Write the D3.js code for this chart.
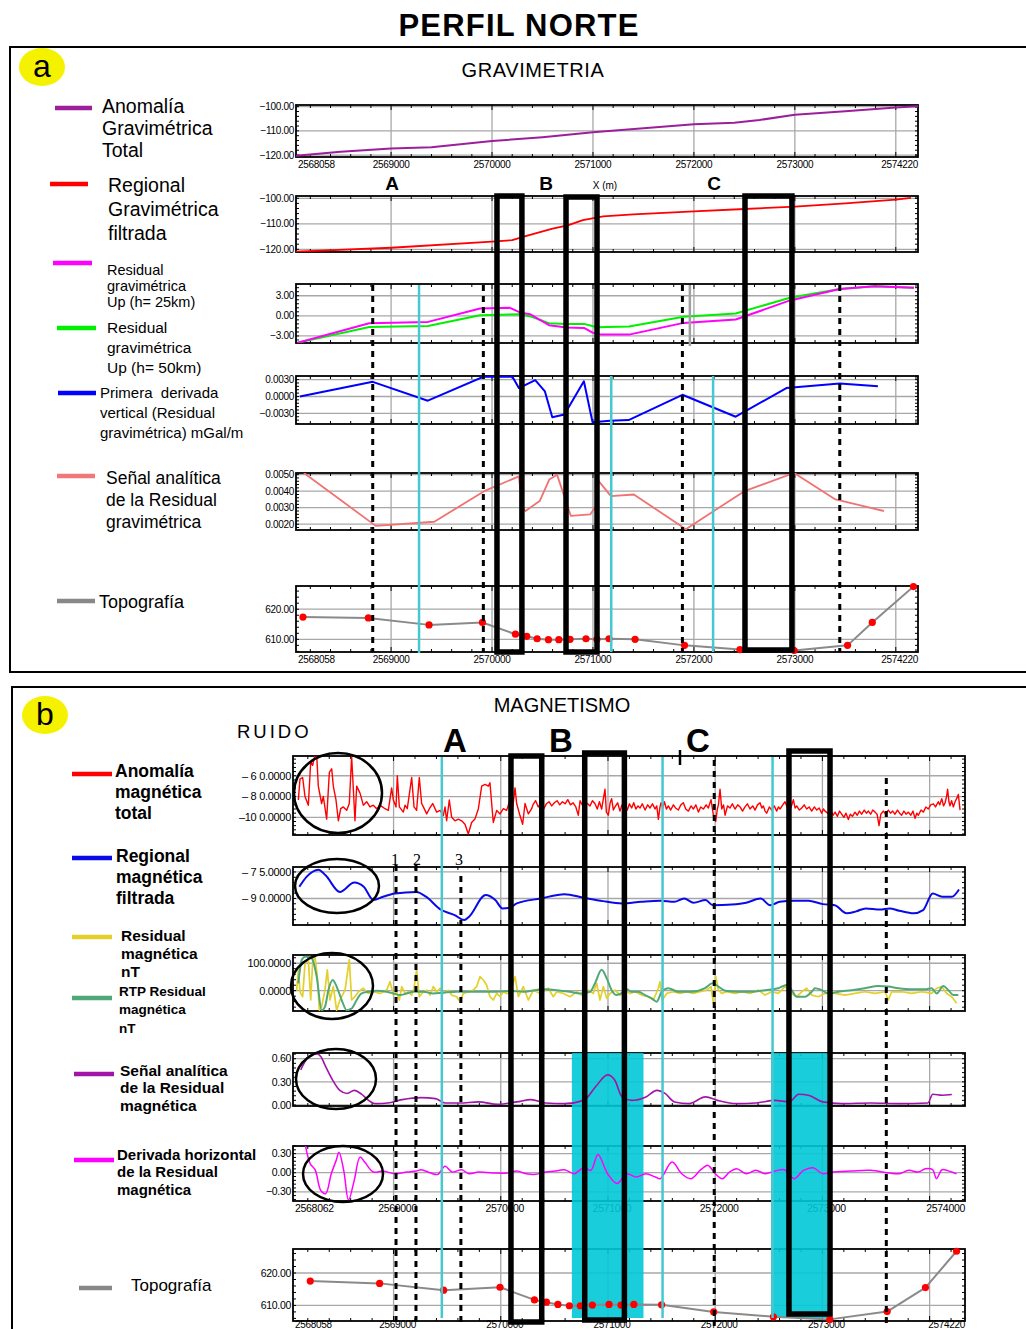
<!DOCTYPE html>
<html><head><meta charset="utf-8">
<script src="https://cdn.jsdelivr.net/npm/d3@7"></script>
<style>
body{margin:0;background:#fff}
svg{display:block}
text{font-family:"Liberation Sans",Arial,Helvetica,sans-serif;fill:#000}
</style>
</head><body>
<svg id="c" width="1026" height="1329"></svg>
<script>
// ================= DATA : GRAVIMETRIA (x = distance m) =================
const gravTickLabels = [2568058, 2569000, 2570000, 2571000, 2572000, 2573000, 2574220];
const gravGrid = [2569000, 2570000, 2571000, 2572000, 2573000, 2574000];
const anomaliaGravTotal = [[2568058,-120.3],[2568500,-118.6],[2569000,-117.3],[2569400,-116.8],[2570000,-114.2],[2570500,-112.6],[2571000,-110.6],[2571500,-108.9],[2572000,-107.3],[2572400,-106.6],[2572650,-105.5],[2573000,-103.3],[2573500,-101.9],[2574000,-100.3],[2574220,-99.8]];
const regionalGrav = [[2568058,-120.9],[2569000,-119.4],[2570000,-117.0],[2570200,-116.4],[2570350,-114.6],[2570600,-111.9],[2570750,-110.6],[2570900,-108.6],[2571100,-107.1],[2571400,-106.3],[2572000,-105.1],[2572500,-104.2],[2573000,-103.3],[2573500,-102.0],[2574000,-100.5],[2574150,-99.8]];
const residualUp25 = [[2568075,-4.0],[2568784,-1.1],[2569366,-0.9],[2569881,1.1],[2570178,1.2],[2570287,0.45],[2570376,0.25],[2570564,-1.4],[2570739,-1.75],[2570911,-1.8],[2570996,-2.5],[2571080,-2.8],[2571357,-2.8],[2571898,-1.05],[2572414,-0.55],[2572952,2.3],[2573445,4.0],[2573789,4.4],[2574180,4.2]];
const residualUp50 = [[2568075,-4.0],[2568784,-1.65],[2569366,-1.5],[2569881,0.1],[2570268,0.25],[2570395,-0.15],[2570564,-1.1],[2570739,-1.2],[2570911,-1.2],[2571040,-1.7],[2571357,-1.6],[2571898,-0.15],[2572414,0.35],[2572952,2.7],[2573445,4.0],[2573789,4.4],[2574180,4.2]];
const derivadaVertical = [[2568097,0],[2568818,0.0026],[2569364,-0.00075],[2569913,0.0035],[2570202,0.0035],[2570266,0.0015],[2570428,0.0029],[2570524,0.0009],[2570597,-0.0037],[2570717,-0.0032],[2570910,0.0027],[2570996,-0.0046],[2571168,-0.0043],[2571353,-0.0042],[2571886,0.0003],[2572414,-0.0036],[2572916,0.0015],[2573445,0.0023],[2573823,0.0018]];
const senalAnaliticaGrav = [[2568137,0.0051],[2568848,0.0019],[2569428,0.00215],[2569922,0.0040],[2570266,0.0049],[2570300,0.0030],[2570331,0.0028],[2570472,0.0034],[2570567,0.0047],[2570644,0.0050],[2570781,0.0025],[2570974,0.0026],[2571030,0.0031],[2571045,0.0047],[2571178,0.0037],[2571405,0.0038],[2571920,0.0017],[2572500,0.0040],[2572993,0.0051],[2573402,0.0035],[2573882,0.0028]];
const topoGrav = [[2568127,617.4],[2568775,617.1],[2569376,614.8],[2569905,615.6],[2570232,611.7],[2570344,611.0],[2570447,610.2],[2570559,609.9],[2570662,609.9],[2570773,610.0],[2570931,610.2],[2571039,610.0],[2571159,610.2],[2571417,610.0],[2571907,608.0],[2572456,606.6],[2572993,606.3],[2573522,608.0],[2573767,615.6],[2574175,627.5]];
const gravDashedX = [2568818, 2569914, 2571886, 2573445];
const gravCyanX = [2569277, 2571181, 2572190];
const gravGrayX = [2571960];
const gravBoxes = [[2570049,2570296],[2570733,2571040],[2572506,2572971]];

// ================= DATA : MAGNETISMO =================
const magTickLabels = [2568062, 2569000, 2570000, 2571000, 2572000, 2573000, 2574000];
const magTopoTickLabels = [2568058, 2569000, 2570000, 2571000, 2572000, 2573000, 2574220];
const magGrid = [2569000, 2570000, 2571000, 2572000, 2573000, 2574000];
const magTotal = [[2568112,-83.3],[2568127,-63.3],[2568152,-61.7],[2568174,-80],[2568205,-88.3],[2568227,-46.7],[2568245,-50],[2568267,-40],[2568283,-40],[2568298,-70],[2568329,-86.7],[2568345,-80],[2568376,-101.7],[2568401,-56.7],[2568423,-53.3],[2568438,-70],[2568463,-83.3],[2568485,-103.3],[2568507,-91.7],[2568531,-90],[2568563,-93.3],[2568587,-86.7],[2568609,-41.7],[2568625,-73.3],[2568640,-103.3],[2568656,-70],[2568687,-76.7],[2568718,-88.3],[2568749,-85],[2568780,-90],[2568811,-88.3],[2568842,-91.7],[2568873,-88.3],[2568920,-91.7],[2568951,-93.3],[2568982,-71.7],[2568998,-83.3],[2569023,-90],[2569035,-60],[2569054,-90],[2569091,-95],[2569107,-88.3],[2569128,-91.7],[2569169,-61.7],[2569191,-90],[2569215,-93.3],[2569240,-61.7],[2569262,-86.7],[2569278,-90],[2569309,-96.7],[2569334,-91.7],[2569365,-86.7],[2569402,-95],[2569434,-93.3],[2569464,-98.3],[2569480,-90],[2569495,-103.3],[2569520,-83.3],[2569542,-100],[2569573,-103.3],[2569604,-101.7],[2569635,-103.3],[2569666,-106.7],[2569697,-116],[2569728,-105],[2569759,-101.7],[2569791,-91.7],[2569822,-70],[2569853,-68.3],[2569884,-70],[2569899,-66.7],[2569930,-105],[2569962,-93.3],[2569993,-96.7],[2570024,-91.7],[2570055,-93.3],[2570086,-83.3],[2570101,-100],[2570133,-71.7],[2570148,-86.7],[2570179,-98.3],[2570204,-106.7],[2570226,-86.7],[2570257,-96.7],[2570288,-91.7],
[2570300,-88],[2570325,-84],[2570350,-90],[2570375,-86],[2570400,-92],[2570425,-87],[2570450,-85],[2570475,-89],[2570500,-86],[2570525,-84],[2570550,-88],[2570575,-85],[2570600,-87],[2570625,-83],[2570650,-88],[2570675,-86],[2570700,-90],[2570723,-98],[2570740,-84],[2570754,-87],[2570780,-91],[2570800,-86],[2570832,-89],[2570855,-84],[2570879,-87],[2570900,-92],[2570920,-85],[2570941,-92],[2570960,-80],[2570972,-73],[2570985,-95],[2571003,-98],[2571020,-86],[2571034,-82],[2571050,-93],[2571065,-90],[2571090,-86],[2571112,-94],[2571130,-88],[2571143,-92],
[2571159,-88],[2571180,-93],[2571200,-87],[2571221,-91],[2571240,-86],[2571260,-92],[2571280,-89],[2571299,-91],[2571320,-87],[2571346,-93],[2571370,-88],[2571392,-91],[2571415,-87],[2571439,-92],[2571455,-89],[2571470,-102],[2571485,-90],[2571495,-86],[2571510,-91],[2571526,-85],[2571545,-92],[2571563,-89],[2571585,-93],[2571610,-88],[2571630,-91],[2571656,-93],[2571680,-88],[2571703,-86],[2571725,-92],[2571750,-94],[2571775,-89],[2571796,-92],[2571820,-88],[2571843,-95],[2571865,-90],[2571890,-92],[2571915,-88],[2571936,-91],[2571961,-83],[2571983,-98],[2572005,-104],[2572020,-92],[2572030,-88],[2572045,-73],[2572061,-92],[2572078,-88],[2572092,-98],[2572115,-89],[2572138,-91],[2572160,-87],[2572185,-92],[2572210,-88],[2572232,-90],[2572255,-94],[2572278,-90],[2572300,-87],[2572325,-92],[2572350,-89],[2572372,-93],[2572395,-88],[2572418,-86],[2572435,-91],[2572449,-89],[2572465,-94],[2572480,-96],[2572505,-90],[2572527,-93],[2572550,-89],[2572574,-94],[2572590,-90],[2572605,-92],[2572630,-88],[2572651,-85],[2572675,-91],[2572698,-93],[2572715,-88],[2572729,-83],[2572745,-91],[2572760,-89],[2572785,-93],[2572807,-91],[2572830,-88],[2572853,-92],[2572876,-90],[2572900,-94],[2572925,-90],[2572947,-93],[2572970,-91],[2572993,-96],[2573010,-92],[2573024,-94],
[2573050,-96],[2573075,-93],[2573100,-98],[2573118,-95],[2573140,-99],[2573160,-94],[2573180,-97],[2573200,-100],[2573220,-96],[2573242,-102],[2573260,-97],[2573280,-99],[2573304,-95],[2573325,-98],[2573345,-94],[2573366,-97],[2573390,-93],[2573410,-96],[2573429,-94],[2573450,-97],[2573470,-93],[2573491,-95],[2573510,-97],[2573528,-108],[2573545,-97],[2573568,-94],[2573590,-97],[2573615,-93],[2573635,-96],[2573655,-94],[2573677,-97],[2573700,-93],[2573720,-96],[2573739,-98],[2573760,-94],[2573780,-97],[2573802,-95],[2573825,-98],[2573845,-94],[2573864,-101],[2573880,-96],[2573895,-98],[2573920,-93],[2573942,-95],[2573965,-90],[2573988,-92],[2574010,-88],[2574035,-87],[2574055,-90],[2574081,-85],[2574095,-88],[2574113,-82],[2574130,-89],[2574144,-86],[2574158,-80],[2574168,-73],[2574180,-85],[2574190,-89],[2574205,-84],[2574221,-90],[2574237,-85],[2574252,-82],[2574268,-78],[2574284,-93]];
const magRegional = [[2568121,-83.4],[2568188,-77.8],[2568299,-73.7],[2568366,-76.9],[2568499,-86.3],[2568634,-81],[2568722,-83.4],[2568812,-90.9],[2568902,-89],[2569013,-87.2],[2569213,-86.3],[2569303,-89],[2569436,-96.2],[2569570,-99.4],[2569659,-102.2],[2569704,-100.3],[2569859,-88.1],[2569949,-90.9],[2570016,-95.6],[2570082,-95.3],[2570149,-92.8],[2570372,-90],[2570595,-87.6],[2570774,-89.6],[2570952,-91.5],[2571131,-92.8],[2571309,-91.9],[2571487,-91.3],[2571620,-91.9],[2571710,-90],[2571799,-92.4],[2571910,-90.9],[2571978,-93.8],[2572156,-93.4],[2572289,-92.4],[2572424,-90],[2572512,-93.8],[2572602,-91.9],[2572735,-91.3],[2572869,-91.3],[2573003,-93.2],[2573115,-93.8],[2573226,-98.4],[2573315,-97.3],[2573404,-95.6],[2573538,-96.2],[2573627,-95.6],[2573716,-96.9],[2573850,-98.4],[2573939,-96.6],[2574029,-87.2],[2574117,-89],[2574207,-89],[2574274,-84.9]];
const magResidual = [[2568096,2],[2568112,76],[2568127,-4],[2568152,-22],[2568174,100],[2568205,112],[2568227,-34],[2568245,100],[2568267,124],[2568289,51],[2568308,-71],[2568329,-59],[2568360,2],[2568382,76],[2568407,-34],[2568438,15],[2568469,-71],[2568500,-34],[2568547,2],[2568587,112],[2568609,-34],[2568640,-22],[2568671,-4],[2568718,9],[2568765,-10],[2568811,-4],[2568873,-10],[2568936,2],[2568967,33],[2568998,-16],[2569029,-4],[2569054,-34],[2569076,15],[2569107,-10],[2569138,-4],[2569169,-16],[2569191,9],[2569215,76],[2569240,-22],[2569278,-4],[2569309,2],[2569340,-16],[2569371,15],[2569402,-4],[2569434,9],[2569464,-10],[2569511,2],[2569542,-16],[2569589,-22],[2569620,-40],[2569651,-10],[2569697,-4],[2569744,2],[2569775,15],[2569806,51],[2569837,39],[2569868,21],[2569899,-22],[2569930,-34],[2569962,-10],[2569993,-22],[2570024,-4],[2570055,-10],[2570086,-10],[2570133,51],[2570164,-22],[2570210,15],[2570257,-34],[2570304,2],[2570366,-10],[2570443,9],[2570490,-22],[2570521,-4],[2570583,-10],[2570646,-22],[2570708,-4],[2570754,-16],[2570816,2],[2570863,-10],[2570894,27],[2570925,-34],[2570957,15],[2570988,-28],[2571019,-10],[2571065,2],[2571112,-16],[2571143,-4],[2571159,2],[2571206,-10],[2571252,-4],[2571314,-16],[2571377,-22],[2571423,-34],[2571470,9],[2571485,33],[2571507,-34],[2571548,-10],[2571610,-4],[2571672,-10],[2571734,-4],[2571796,-10],[2571859,-4],[2571921,2],[2571961,15],[2571983,-46],[2572005,51],[2572030,2],[2572061,-10],[2572107,-4],[2572185,-10],[2572247,-4],[2572325,-10],[2572403,2],[2572465,-16],[2572527,-4],[2572589,-10],[2572651,15],[2572714,-10],[2572760,-22],[2572807,-4],[2572853,9],[2572900,-16],[2572962,-22],[2573024,-10],[2573118,-10],[2573211,-16],[2573304,-10],[2573397,-4],[2573491,-10],[2573584,-4],[2573615,-34],[2573646,-4],[2573739,-4],[2573833,-10],[2573926,-4],[2574019,-10],[2574066,9],[2574113,15],[2574159,-10],[2574206,-22],[2574252,-46]];
const magRTP = [[2568112,27],[2568143,112],[2568174,124],[2568227,124],[2568245,112],[2568283,51],[2568329,-71],[2568360,-59],[2568392,2],[2568432,39],[2568469,15],[2568516,-34],[2568563,-71],[2568609,-65],[2568656,-34],[2568702,-10],[2568765,-4],[2568842,0],[2568936,-4],[2568998,-10],[2569060,-16],[2569122,-10],[2569184,-4],[2569278,-4],[2569371,-10],[2569464,-7],[2569589,-4],[2569775,-4],[2569962,-4],[2570086,-1],[2570210,-4],[2570397,5],[2570521,2],[2570646,-4],[2570739,-10],[2570832,-4],[2570879,27],[2570941,76],[2570988,45],[2571034,2],[2571081,-16],[2571143,-4],[2571159,9],[2571221,-4],[2571283,-4],[2571346,-16],[2571408,-28],[2571454,-40],[2571501,-4],[2571563,9],[2571656,-4],[2571781,-4],[2571905,9],[2571974,27],[2572030,15],[2572092,0],[2572216,-4],[2572340,-4],[2572465,2],[2572589,9],[2572667,21],[2572714,2],[2572760,-22],[2572838,-22],[2572900,-4],[2572931,9],[2572993,2],[2573055,-10],[2573149,-4],[2573273,2],[2573397,9],[2573522,17],[2573615,15],[2573708,9],[2573833,5],[2573957,5],[2574019,9],[2574066,-10],[2574128,17],[2574175,2],[2574221,-16],[2574268,-16]];
const magSenalAnalitica = [[2568134,0.456],[2568166,0.543],[2568210,0.63],[2568277,0.666],[2568321,0.63],[2568366,0.50],[2568433,0.32],[2568499,0.19],[2568567,0.15],[2568634,0.19],[2568701,0.14],[2568767,0.06],[2568834,0.018],[2568945,0.026],[2569080,0.07],[2569258,0.096],[2569391,0.083],[2569481,0.026],[2569614,0.026],[2569793,0.04],[2569971,0.009],[2570149,0.04],[2570283,0.07],[2570417,0.026],[2570595,0.018],[2570774,0.06],[2570886,0.24],[2570996,0.39],[2571064,0.32],[2571131,0.105],[2571219,0.06],[2571354,0.105],[2571456,0.19],[2571532,0.15],[2571620,0.04],[2571755,0.018],[2571910,0.105],[2572022,0.06],[2572201,0.018],[2572379,0.026],[2572557,0.06],[2572691,0.04],[2572780,0.14],[2572869,0.127],[2573003,0.04],[2573181,0.018],[2573449,0.026],[2573716,0.018],[2573984,0.026],[2574029,0.14],[2574117,0.127],[2574207,0.136]];
const magDerivadaH = [[2568178,0.43],[2568223,0.14],[2568268,0.047],[2568321,-0.277],[2568366,-0.33],[2568419,-0.016],[2568464,0.19],[2568491,0.32],[2568535,0.037],[2568580,-0.43],[2568633,-0.12],[2568687,0.245],[2568731,0.167],[2568812,0.01],[2568901,0.026],[2569012,-0.016],[2569124,0.01],[2569212,0.026],[2569257,0.047],[2569346,-0.005],[2569413,-0.026],[2569480,0.1],[2569547,0.01],[2569636,0.047],[2569703,-0.016],[2569792,0.01],[2569926,-0.005],[2570060,-0.005],[2570149,0.026],[2570237,-0.016],[2570326,-0.026],[2570417,0.01],[2570506,0.026],[2570595,0.047],[2570684,-0.016],[2570773,0.078],[2570840,0.037],[2570907,0.287],[2570996,-0.016],[2571085,-0.17],[2571174,-0.016],[2571264,-0.068],[2571353,-0.016],[2571442,-0.068],[2571487,-0.094],[2571598,0.167],[2571687,-0.016],[2571776,-0.094],[2571866,0.047],[2571933,0.115],[2572000,-0.016],[2572067,-0.094],[2572133,0.01],[2572200,0.063],[2572289,-0.016],[2572378,0.037],[2572467,-0.016],[2572557,0.026],[2572646,0.047],[2572735,-0.094],[2572824,0.037],[2572913,0.078],[2573003,-0.016],[2573092,0.01],[2573270,0.026],[2573448,0.037],[2573626,-0.005],[2573715,-0.016],[2573805,0.037],[2573894,0.01],[2573961,0.063],[2574028,0.047],[2574064,-0.094],[2574117,0.047],[2574206,0.01],[2574251,-0.016]];
const topoMag = [[2568223,617.5],[2568870,616.8],[2569467,614.7],[2569993,615.6],[2570314,611.7],[2570426,611.0],[2570533,610.3],[2570640,609.9],[2570742,609.9],[2570854,610.1],[2571010,610.3],[2571121,610.1],[2571241,610.3],[2571500,610.2],[2571986,608.0],[2572543,606.5],[2573069,605.7],[2573604,608.1],[2573961,615.5],[2574251,626.7]];
const magDashedX = [2569023, 2569209, 2569628, 2571991, 2573596];
const magCyanX = [2569450, 2571509, 2572535];
const magCyanRects = [[2570663,2571331],[2572521,2573048]];
const magBoxes = [[2570095,2570382],[2570783,2571153],[2572688,2573071]];

// ================= LAYOUT =================
const svg = d3.select('#c');
const xA = d3.scaleLinear().domain([2568058, 2574220]).range([296, 918]);
const xB = d3.scaleLinear().domain([2568062, 2574330]).range([293, 965]);

function panel(id, x, top, bottom, domain, ticks, labels, minor, grid, fs) {
  const y = d3.scaleLinear().domain(domain).range([bottom, top]);
  const [x0, x1] = x.range();
  const g = svg.append('g');
  ticks.forEach(t => g.append('line').attr('x1', x0).attr('x2', x1).attr('y1', y(t)).attr('y2', y(t))
    .attr('stroke', '#a8a8a8').attr('stroke-width', 1.3));
  grid.forEach(v => g.append('line').attr('x1', x(v)).attr('x2', x(v)).attr('y1', top).attr('y2', bottom)
    .attr('stroke', '#a8a8a8').attr('stroke-width', 1.3));
  const d0 = x.domain()[0], d1 = x.domain()[1];
  for (let v = Math.ceil(d0 / 200) * 200; v < d1; v += 200) {
    const L = (v % 1000 === 0) ? 5 : 3;
    g.append('line').attr('x1', x(v)).attr('x2', x(v)).attr('y1', top).attr('y2', top + L).attr('stroke', '#000').attr('stroke-width', 1);
    g.append('line').attr('x1', x(v)).attr('x2', x(v)).attr('y1', bottom).attr('y2', bottom - L).attr('stroke', '#000').attr('stroke-width', 1);
  }
  const [lo, hi] = domain;
  for (let v = Math.ceil(lo / minor) * minor; v <= hi; v += minor) {
    g.append('line').attr('x1', x0).attr('x2', x0 + 3).attr('y1', y(v)).attr('y2', y(v)).attr('stroke', '#000').attr('stroke-width', 1);
    g.append('line').attr('x1', x1).attr('x2', x1 - 3).attr('y1', y(v)).attr('y2', y(v)).attr('stroke', '#000').attr('stroke-width', 1);
  }
  g.append('rect').attr('x', x0).attr('y', top).attr('width', x1 - x0).attr('height', bottom - top)
    .attr('fill', 'none').attr('stroke', '#000').attr('stroke-width', 1.8);
  ticks.forEach((t, i) => g.append('text').attr('x', x0 - 2).attr('y', y(t)).attr('dy', '0.35em')
    .attr('text-anchor', 'end').attr('font-size', fs).attr('letter-spacing', -0.3).text(labels[i]));
  svg.append('clipPath').attr('id', id).append('rect').attr('x', x0).attr('y', top).attr('width', x1 - x0).attr('height', bottom - top);
  return y;
}
function xLabels(x, vals, yPos, fs, dx, color) {
  const [x0, x1] = x.range();
  vals.forEach((v, i) => {
    const last = i === vals.length - 1, first = i === 0;
    svg.append('text').attr('x', first ? x0 + 2 : last ? x1 : x(v) + dx).attr('y', yPos)
      .attr('text-anchor', first ? 'start' : last ? 'end' : 'middle').attr('font-size', fs)
      .attr('letter-spacing', -0.3).attr('fill', color || '#000').text(String(v));
  });
}
function line(clip, x, y, data, color, w, curve) {
  svg.append('path').datum(data).attr('clip-path', `url(#${clip})`)
    .attr('d', d3.line().x(d => x(d[0])).y(d => y(d[1])).curve(curve || d3.curveLinear))
    .attr('fill', 'none').attr('stroke', color).attr('stroke-width', w).attr('stroke-linejoin', 'round');
}
function dots(x, y, data, r) {
  svg.append('g').selectAll('circle').data(data).join('circle')
    .attr('cx', d => x(d[0])).attr('cy', d => y(d[1])).attr('r', r).attr('fill', '#ff0000');
}
function vline(xp, y1, y2, color, w, dash) {
  const l = svg.append('line').attr('x1', xp).attr('x2', xp).attr('y1', y1).attr('y2', y2)
    .attr('stroke', color).attr('stroke-width', w);
  if (dash) l.attr('stroke-dasharray', dash);
}
function legend(items) {
  items.forEach(it => {
    svg.append('line').attr('x1', it.x1).attr('x2', it.x2).attr('y1', it.ly).attr('y2', it.ly)
      .attr('stroke', it.c).attr('stroke-width', 4.5);
    it.lines.forEach((t, i) => svg.append('text').attr('x', it.tx).attr('y', it.ys[i]).attr('dy', '0.35em')
      .attr('font-size', it.fs).attr('font-weight', it.fw || 'normal').style('white-space', 'pre').text(t));
  });
}

// ---------- Title & frames ----------
svg.append('text').attr('x', 519).attr('y', 36).attr('text-anchor', 'middle').attr('font-size', 31)
  .attr('font-weight', 'bold').attr('letter-spacing', 1.2).text('PERFIL NORTE');
svg.append('path').attr('d', 'M1026,47 H10 V672 H1026').attr('fill', 'none').attr('stroke', '#000').attr('stroke-width', 2);
svg.append('path').attr('d', 'M1026,687 H12 V1329').attr('fill', 'none').attr('stroke', '#000').attr('stroke-width', 2);
[[42, 67, 'a'], [45, 715, 'b']].forEach(([cx, cy, t]) => {
  svg.append('ellipse').attr('cx', cx).attr('cy', cy).attr('rx', 23).attr('ry', 19).attr('fill', '#f5f200');
  svg.append('text').attr('x', cx).attr('y', cy - 1).attr('dy', '0.35em').attr('text-anchor', 'middle')
    .attr('font-size', 32).text(t);
});
svg.append('text').attr('x', 533).attr('y', 77).attr('text-anchor', 'middle').attr('font-size', 20)
  .attr('letter-spacing', 0.6).text('GRAVIMETRIA');
svg.append('text').attr('x', 562).attr('y', 712).attr('text-anchor', 'middle').attr('font-size', 20)
  .text('MAGNETISMO');

// ---------- Panel a ----------
const yA1 = panel('a1', xA, 105, 157, [-120.8, -99.3], [-100, -110, -120], ['\u2212100.00', '\u2212110.00', '\u2212120.00'], 2, gravGrid, 10);
xLabels(xA, gravTickLabels, 168, 10, 0);
const yA2 = panel('a2', xA, 196, 252, [-121.06, -99.1], [-100, -110, -120], ['\u2212100.00', '\u2212110.00', '\u2212120.00'], 2, gravGrid, 10);
const yA3 = panel('a3', xA, 284, 343, [-4.05, 4.75], [3, 0, -3], ['3.00', '0.00', '\u22123.00'], 0.6, gravGrid, 10);
const yA4 = panel('a4', xA, 376, 424, [-0.00489, 0.00364], [0.003, 0, -0.003], ['0.0030', '0.0000', '\u22120.0030'], 0.0006, gravGrid, 10);
const yA5 = panel('a5', xA, 473, 530, [0.00165, 0.0051], [0.005, 0.004, 0.003, 0.002], ['0.0050', '0.0040', '0.0030', '0.0020'], 0.0002, gravGrid, 10);
const yA6 = panel('a6', xA, 586, 652, [605.8, 627.7], [620, 610], ['620.00', '610.00'], 2, gravGrid, 10);
xLabels(xA, gravTickLabels, 663, 10, 0);

line('a1', xA, yA1, anomaliaGravTotal, '#9b1f9b', 2);
line('a2', xA, yA2, regionalGrav, '#ff0000', 1.8);
line('a3', xA, yA3, residualUp50, '#00f000', 2);
line('a3', xA, yA3, residualUp25, '#ff00ff', 2);
line('a4', xA, yA4, derivadaVertical, '#0000ff', 2);
line('a5', xA, yA5, senalAnaliticaGrav, '#f07272', 1.8);
line('a6', xA, yA6, topoGrav, '#8a8a8a', 2);
dots(xA, yA6, topoGrav, 3.6);

gravGrayX.forEach(v => vline(xA(v), 285, 346, '#a0a0a0', 2.5));
const gravCyanSpan = [[285, 653], [376, 652], [376, 652]];
gravCyanX.forEach((v, i) => vline(xA(v), gravCyanSpan[i][0], gravCyanSpan[i][1], '#45c8d0', 2.5));
gravDashedX.forEach(v => vline(xA(v), 285, 652, '#000', 3, '6,5'));
const gravBoxSpan = [[196, 652], [197, 652], [196, 650]];
gravBoxes.forEach((b, i) => svg.append('rect').attr('x', xA(b[0])).attr('y', gravBoxSpan[i][0])
  .attr('width', xA(b[1]) - xA(b[0])).attr('height', gravBoxSpan[i][1] - gravBoxSpan[i][0])
  .attr('fill', 'none').attr('stroke', '#000').attr('stroke-width', 5.5));

[['A', 392], ['B', 546], ['C', 714]].forEach(([t, xp]) => svg.append('text').attr('x', xp).attr('y', 190)
  .attr('text-anchor', 'middle').attr('font-size', 19).attr('font-weight', 'bold').text(t));
svg.append('text').attr('x', 605).attr('y', 189).attr('text-anchor', 'middle').attr('font-size', 10).text('X (m)');

legend([
  {c: '#9b1f9b', x1: 55, x2: 92, ly: 108, tx: 102, lines: ['Anomalía', 'Gravimétrica', 'Total'], ys: [106, 128, 150], fs: 19.5},
  {c: '#ff0000', x1: 50, x2: 88, ly: 184, tx: 108, lines: ['Regional', 'Gravimétrica', 'filtrada'], ys: [185, 209, 233], fs: 19.5},
  {c: '#ff00ff', x1: 53, x2: 92, ly: 263, tx: 107, lines: ['Residual', 'gravimétrica', 'Up (h= 25km)'], ys: [270, 286, 302], fs: 14.5},
  {c: '#00f000', x1: 57, x2: 96, ly: 328, tx: 107, lines: ['Residual', 'gravimétrica', 'Up (h= 50km)'], ys: [328, 348, 368], fs: 15.5},
  {c: '#0000ff', x1: 58, x2: 96, ly: 393, tx: 100, lines: ['Primera  derivada', 'vertical (Residual', 'gravimétrica) mGal/m'], ys: [393, 413, 433], fs: 15},
  {c: '#f07878', x1: 57, x2: 95, ly: 476, tx: 106, lines: ['Señal analítica', 'de la Residual', 'gravimétrica'], ys: [478, 500, 522], fs: 17.5},
  {c: '#888888', x1: 57, x2: 95, ly: 601, tx: 99, lines: ['Topografía'], ys: [602], fs: 18}
]);

// ---------- Panel b ----------
const yB1 = panel('b1', xB, 756, 835, [-117, -41], [-60, -80, -100], ['\u2013 6 0.0000', '\u2013 8 0.0000', '\u201310 0.0000'], 4, magGrid, 11);
const yB2 = panel('b2', xB, 867, 925, [-105, -72.2], [-75, -90], ['\u2013 7 5.0000', '\u2013 9 0.0000'], 3, magGrid, 11);
const yB3 = panel('b3', xB, 955, 1011, [-74, 130], [100, 0], ['100.0000', '0.0000'], 20, magGrid, 11);
const yB4 = panel('b4', xB, 1053, 1106, [-0.013, 0.674], [0.6, 0.3, 0], ['0.60', '0.30', '0.00'], 0.06, magGrid, 10.5);
const yB5 = panel('b5', xB, 1146, 1201, [-0.445, 0.42], [0.3, 0, -0.3], ['0.30', '0.00', '\u22120.30'], 0.06, magGrid, 10.5);
xLabels(xB, magTickLabels, 1212, 10.5, 4);
const yB6 = panel('b6', xB, 1249, 1321, [605.2, 627.4], [620, 610], ['620.00', '610.00'], 2, magGrid, 10.5);
xLabels(xB, magTopoTickLabels, 1328, 10, 4);

const cyanTop = 1053, cyanBottom = 1318;
magCyanRects.forEach(r => svg.append('rect').attr('x', xB(r[0])).attr('y', cyanTop)
  .attr('width', xB(r[1]) - xB(r[0])).attr('height', cyanBottom - cyanTop).attr('fill', '#00c8d6').attr('opacity', 0.9));

line('b1', xB, yB1, magTotal, '#ff0000', 1.4);
line('b2', xB, yB2, magRegional, '#0a0ae6', 2, d3.curveMonotoneX);
line('b3', xB, yB3, magResidual, '#e3d02a', 1.7);
line('b3', xB, yB3, magRTP, '#4fa878', 2, d3.curveMonotoneX);
line('b4', xB, yB4, magSenalAnalitica, '#a015a8', 1.6, d3.curveMonotoneX);
line('b5', xB, yB5, magDerivadaH, '#ff00ff', 1.5, d3.curveCatmullRom);
line('b6', xB, yB6, topoMag, '#8a8a8a', 2);
dots(xB, yB6, topoMag, 3.6);

magCyanX.forEach(v => vline(xB(v), 757, 1318, '#45c8d0', 2.5));
const magDashedSpan = [[865, 1326], [865, 1326], [876, 1326], [760, 1326], [778, 1326]];
magDashedX.forEach((v, i) => vline(xB(v), magDashedSpan[i][0], magDashedSpan[i][1], '#000', 3, '6,5'));
const magBoxSpan = [[756, 1322], [753, 1320], [751, 1314]];
magBoxes.forEach((b, i) => svg.append('rect').attr('x', xB(b[0])).attr('y', magBoxSpan[i][0])
  .attr('width', xB(b[1]) - xB(b[0])).attr('height', magBoxSpan[i][1] - magBoxSpan[i][0])
  .attr('fill', 'none').attr('stroke', '#000').attr('stroke-width', 5.5));
vline(680, 750, 765, '#000', 2.5);

// noise ellipses
[[338, 793, 44, 40], [337, 886, 42, 27], [332, 986, 41, 33], [336, 1079, 40, 30], [343, 1174, 40, 28]]
  .forEach(([cx, cy, rx, ry]) => svg.append('ellipse').attr('cx', cx).attr('cy', cy).attr('rx', rx).attr('ry', ry)
    .attr('fill', 'none').attr('stroke', '#000').attr('stroke-width', 2.5));

svg.append('text').attr('x', 237).attr('y', 738).attr('font-size', 18.5).attr('letter-spacing', 3).text('RUIDO');
[['A', 455], ['B', 561], ['C', 698]].forEach(([t, xp]) => svg.append('text').attr('x', xp).attr('y', 752)
  .attr('text-anchor', 'middle').attr('font-size', 33).attr('font-weight', 'bold').text(t));
[['1', 395], ['2', 417], ['3', 459]].forEach(([t, xp]) => svg.append('text').attr('x', xp).attr('y', 865)
  .attr('text-anchor', 'middle').attr('font-size', 16).style('font-family', '"Liberation Serif","DejaVu Serif",serif').text(t));

legend([
  {c: '#ff0000', x1: 72, x2: 112, ly: 774, tx: 115, lines: ['Anomalía', 'magnética', 'total'], ys: [771, 792, 813], fs: 17.5, fw: 'bold'},
  {c: '#0a0ae6', x1: 72, x2: 112, ly: 858, tx: 116, lines: ['Regional', 'magnética', 'filtrada'], ys: [856, 877, 898], fs: 17.5, fw: 'bold'},
  {c: '#e3d02a', x1: 72, x2: 112, ly: 937, tx: 121, lines: ['Residual', 'magnética', 'nT'], ys: [936, 954, 972], fs: 15.5, fw: 'bold'},
  {c: '#4fa878', x1: 72, x2: 112, ly: 998, tx: 119, lines: ['RTP Residual', 'magnética', 'nT'], ys: [991, 1009, 1028], fs: 13.5, fw: 'bold'},
  {c: '#a015a8', x1: 74, x2: 114, ly: 1074, tx: 120, lines: ['Señal analítica', 'de la Residual', 'magnética'], ys: [1071, 1088, 1106], fs: 15.5, fw: 'bold'},
  {c: '#ff00ff', x1: 74, x2: 114, ly: 1160, tx: 117, lines: ['Derivada horizontal', 'de la Residual', 'magnética'], ys: [1155, 1172, 1190], fs: 15, fw: 'bold'},
  {c: '#888888', x1: 79, x2: 112, ly: 1288, tx: 131, lines: ['Topografía'], ys: [1285], fs: 17}
]);
</script>
</body></html>
